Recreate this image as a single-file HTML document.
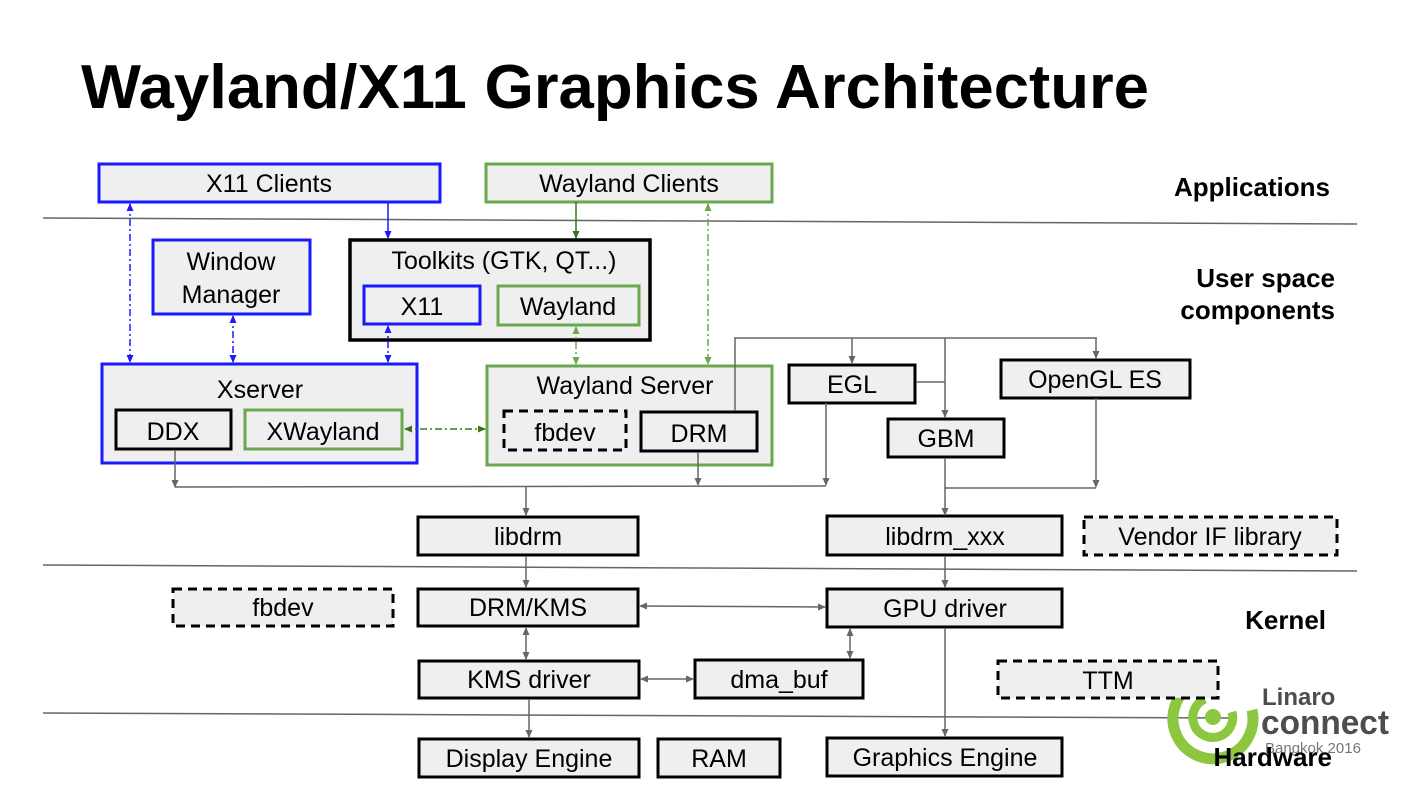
<!DOCTYPE html>
<html><head><meta charset="utf-8"><style>
html,body{margin:0;padding:0;background:#fff;}
svg{display:block;font-family:"Liberation Sans",sans-serif;}
</style></head><body>
<svg width="1425" height="802" viewBox="0 0 1425 802" xmlns="http://www.w3.org/2000/svg">
<defs>
<marker id="ag" markerWidth="8" markerHeight="8" refX="7" refY="4" orient="auto-start-reverse" markerUnits="userSpaceOnUse"><path d="M0,0.5 L8,4 L0,7.5 z" fill="#666"/></marker>
<marker id="ab" markerWidth="8" markerHeight="8" refX="7" refY="4" orient="auto-start-reverse" markerUnits="userSpaceOnUse"><path d="M0,0.5 L8,4 L0,7.5 z" fill="#1a1aff"/></marker>
<marker id="an" markerWidth="8" markerHeight="8" refX="7" refY="4" orient="auto-start-reverse" markerUnits="userSpaceOnUse"><path d="M0,0.5 L8,4 L0,7.5 z" fill="#38761d"/></marker>
<marker id="al" markerWidth="8" markerHeight="8" refX="7" refY="4" orient="auto-start-reverse" markerUnits="userSpaceOnUse"><path d="M0,0.5 L8,4 L0,7.5 z" fill="#6aa84f"/></marker>
</defs>
<text x="81" y="108" font-size="62" font-weight="bold" textLength="1068" lengthAdjust="spacingAndGlyphs">Wayland/X11 Graphics Architecture</text>

<g stroke="#666" stroke-width="1.5">
<line x1="43" y1="218" x2="1357" y2="224"/>
<line x1="43" y1="565" x2="1357" y2="571"/>
<line x1="43" y1="713" x2="1230" y2="718"/>
</g>

<g fill="none" stroke="#8dc63f">
<path d="M1195,683 A40,40 0 1 0 1252,710" stroke-width="11"/>
<path d="M1205,699 A20,20 0 1 0 1232,712" stroke-width="9"/>
</g>
<circle cx="1213" cy="717" r="8" fill="#8dc63f"/>
<text x="1262" y="705" font-size="24" font-weight="bold" fill="#4d4d4d">Linaro</text>
<text x="1261" y="734" font-size="34" font-weight="bold" fill="#4d4d4d" textLength="128" lengthAdjust="spacingAndGlyphs">connect</text>
<text x="1265" y="753" font-size="15" fill="#777">Bangkok 2016</text>

<g font-size="26" font-weight="bold" text-anchor="end">
<text x="1330" y="196">Applications</text>
<text x="1335" y="287">User space</text>
<text x="1335" y="319">components</text>
<text x="1326" y="629">Kernel</text>
<text x="1332" y="766">Hardware</text>
</g>

<g fill="#efefef" stroke-width="3">
<rect x="99" y="164" width="341" height="38" stroke="#1a1aff"/>
<rect x="486" y="164" width="286" height="38" stroke="#6aa84f"/>
<rect x="153" y="240" width="157" height="74" stroke="#1a1aff"/>
<rect x="350" y="240" width="300" height="100" stroke="#000" stroke-width="3.5"/>
<rect x="364" y="286" width="116" height="38" stroke="#1a1aff"/>
<rect x="498" y="286" width="141" height="39" stroke="#6aa84f"/>
<rect x="102" y="364" width="315" height="99" stroke="#1a1aff"/>
<rect x="116" y="410" width="115" height="39" stroke="#000"/>
<rect x="245" y="410" width="157" height="39" stroke="#6aa84f"/>
<rect x="487" y="366" width="285" height="99" stroke="#6aa84f"/>
<rect x="504" y="411" width="122" height="39" stroke="#000" stroke-dasharray="9,6"/>
<rect x="641" y="412" width="116" height="39" stroke="#000"/>
<rect x="789" y="365" width="126" height="38" stroke="#000"/>
<rect x="888" y="419" width="116" height="38" stroke="#000"/>
<rect x="1001" y="360" width="189" height="38" stroke="#000"/>
<rect x="418" y="517" width="220" height="38" stroke="#000"/>
<rect x="827" y="516" width="235" height="39" stroke="#000"/>
<rect x="1084" y="517" width="253" height="38" stroke="#000" stroke-dasharray="9,6"/>
<rect x="173" y="589" width="220" height="37" stroke="#000" stroke-dasharray="9,6"/>
<rect x="418" y="589" width="220" height="37" stroke="#000"/>
<rect x="827" y="589" width="235" height="38" stroke="#000"/>
<rect x="419" y="661" width="220" height="37" stroke="#000"/>
<rect x="695" y="660" width="168" height="38" stroke="#000"/>
<rect x="998" y="661" width="220" height="37" stroke="#000" stroke-dasharray="9,6"/>
<rect x="419" y="739" width="220" height="38" stroke="#000"/>
<rect x="658" y="739" width="122" height="38" stroke="#000"/>
<rect x="827" y="738" width="235" height="38" stroke="#000"/>
</g>

<g font-size="25" text-anchor="middle">
<text x="269" y="192">X11 Clients</text>
<text x="629" y="192">Wayland Clients</text>
<text x="231" y="270">Window</text>
<text x="231" y="303">Manager</text>
<text x="504" y="269">Toolkits (GTK, QT...)</text>
<text x="422" y="315">X11</text>
<text x="568" y="315">Wayland</text>
<text x="260" y="398">Xserver</text>
<text x="173" y="440">DDX</text>
<text x="323" y="440">XWayland</text>
<text x="625" y="394">Wayland Server</text>
<text x="565" y="441">fbdev</text>
<text x="699" y="442">DRM</text>
<text x="852" y="393">EGL</text>
<text x="946" y="447">GBM</text>
<text x="1095" y="388">OpenGL ES</text>
<text x="528" y="545">libdrm</text>
<text x="945" y="545">libdrm_xxx</text>
<text x="1210" y="545">Vendor IF library</text>
<text x="283" y="616">fbdev</text>
<text x="528" y="616">DRM/KMS</text>
<text x="945" y="617">GPU driver</text>
<text x="529" y="688">KMS driver</text>
<text x="779" y="688">dma_buf</text>
<text x="1108" y="689">TTM</text>
<text x="529" y="767">Display Engine</text>
<text x="719" y="767">RAM</text>
<text x="945" y="766">Graphics Engine</text>
</g>

<g fill="none" stroke-width="1.5">
<line x1="130" y1="204" x2="130" y2="362" stroke="#1a1aff" stroke-dasharray="7,3,2,3" marker-start="url(#ab)" marker-end="url(#ab)"/>
<line x1="233" y1="316" x2="233" y2="362" stroke="#1a1aff" stroke-dasharray="7,3,2,3" marker-start="url(#ab)" marker-end="url(#ab)"/>
<line x1="388" y1="326" x2="388" y2="362" stroke="#1a1aff" stroke-dasharray="7,3,2,3" marker-start="url(#ab)" marker-end="url(#ab)"/>
<line x1="388" y1="202" x2="388" y2="238" stroke="#1a1aff" marker-end="url(#ab)"/>
<line x1="576" y1="202" x2="576" y2="238" stroke="#38761d" marker-end="url(#an)"/>
<line x1="576" y1="327" x2="576" y2="364" stroke="#6aa84f" stroke-dasharray="7,3,2,3" marker-start="url(#al)" marker-end="url(#al)"/>
<line x1="708" y1="204" x2="708" y2="364" stroke="#6aa84f" stroke-dasharray="7,3,2,3" marker-start="url(#al)" marker-end="url(#al)"/>
<line x1="405" y1="429" x2="485" y2="429" stroke="#38761d" stroke-dasharray="7,3,2,3" marker-start="url(#an)" marker-end="url(#an)"/>
</g>

<g fill="none" stroke="#666" stroke-width="1.5">
<line x1="175" y1="450" x2="175" y2="487" marker-end="url(#ag)"/>
<line x1="698" y1="452" x2="698" y2="485" marker-end="url(#ag)"/>
<line x1="826" y1="403" x2="826" y2="485" marker-end="url(#ag)"/>
<line x1="175" y1="487" x2="826" y2="486"/>
<line x1="526" y1="486" x2="526" y2="515" marker-end="url(#ag)"/>
<polyline points="735,411 735,338 1097,338"/>
<line x1="852" y1="338" x2="852" y2="363" marker-end="url(#ag)"/>
<line x1="945" y1="338" x2="945" y2="417" marker-end="url(#ag)"/>
<line x1="1096" y1="338" x2="1096" y2="358" marker-end="url(#ag)"/>
<line x1="916" y1="382" x2="945" y2="382"/>
<line x1="1096" y1="398" x2="1096" y2="487" marker-end="url(#ag)"/>
<line x1="945" y1="488" x2="1096" y2="488"/>
<line x1="945" y1="458" x2="945" y2="515" marker-end="url(#ag)"/>
<line x1="526" y1="556" x2="526" y2="587" marker-end="url(#ag)"/>
<line x1="945" y1="556" x2="945" y2="587" marker-end="url(#ag)"/>
<line x1="640" y1="606" x2="825" y2="607" marker-start="url(#ag)" marker-end="url(#ag)"/>
<line x1="526" y1="628" x2="526" y2="659" marker-start="url(#ag)" marker-end="url(#ag)"/>
<line x1="641" y1="679" x2="693" y2="679" marker-start="url(#ag)" marker-end="url(#ag)"/>
<line x1="850" y1="629" x2="850" y2="658" marker-start="url(#ag)" marker-end="url(#ag)"/>
<line x1="945" y1="628" x2="945" y2="736" marker-end="url(#ag)"/>
<line x1="529" y1="699" x2="529" y2="737" marker-end="url(#ag)"/>
</g>
</svg>
</body></html>
